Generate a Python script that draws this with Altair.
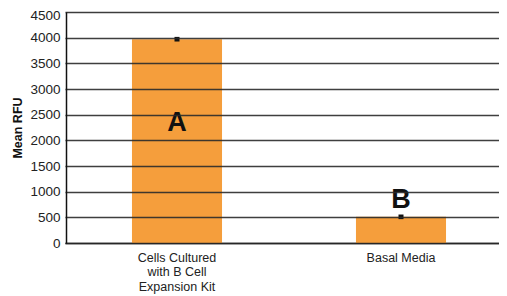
import altair as alt
import pandas as pd

categories = ["Cells Cultured|with B Cell|Expansion Kit", "Basal Media"]
mean_rfu = [3970, 510]
error = [45, 45]
letters = ["A", "B"]
letter_y = [2330, 840]
y_ticks = [0, 500, 1000, 1500, 2000, 2500, 3000, 3500, 4000, 4500]

df = pd.DataFrame({
    "cat": categories,
    "val": mean_rfu,
    "lo": [m - e for m, e in zip(mean_rfu, error)],
    "hi": [m + e for m, e in zip(mean_rfu, error)],
    "letter": letters,
    "ly": letter_y,
})

FONT = "Liberation Sans"

x_scale = alt.Scale(domain=categories, range=[-1, 447], paddingInner=0.598, paddingOuter=0.299)
y_scale = alt.Scale(domain=[0, 4500], nice=False)

x_axis = alt.Axis(labelAngle=0, labelExpr="split(datum.label, '|')",
                  labelFontSize=12.5, labelColor="#222", labelLineHeight=14.5,
                  labelPadding=8, ticks=False, domainColor="#111", domainWidth=1.5,
                  labelFont=FONT, labelBaseline="top")
y_axis = alt.Axis(values=y_ticks, format="d", labelOverlap=False,
                  labelFontSize=13.5, labelColor="#222", labelFont=FONT,
                  labelOffset={"condition": {"test": "datum.value == 4500", "value": 3}, "value": 0},
                  ticks=False, labelPadding=6,
                  titleFont=FONT, titleFontSize=12.5, titleFontWeight="bold",
                  titleColor="#111", titleAngle=270, titleX=-49, titleY=115.5,
                  titleAlign="center", titleBaseline="middle",
                  grid=True, gridColor="#2a2a2a", gridWidth=1.7, gridOpacity=0.9,
                  domainColor="#111", domainWidth=1.5, zindex=1)

def X():
    return alt.X("cat:N", sort=categories, title=None, scale=x_scale, axis=x_axis)

bars = alt.Chart(df).mark_bar(color="#F59E3C").encode(
    x=X(),
    y=alt.Y("val:Q", scale=y_scale, title="Mean RFU", axis=y_axis),
)

errs = alt.Chart(df).mark_rule(color="#111", strokeWidth=5).encode(
    x=X(),
    y=alt.Y("lo:Q", scale=y_scale, title="Mean RFU", axis=y_axis),
    y2="hi:Q",
)

text = alt.Chart(df).mark_text(fontSize=27, fontWeight="bold", font=FONT,
                               color="#111", baseline="middle").encode(
    x=X(),
    y=alt.Y("ly:Q", scale=y_scale, title="Mean RFU", axis=y_axis),
    text="letter:N",
)

chart = alt.layer(bars, errs, text).properties(
    width=433, height=231,
    autosize=alt.AutoSizeParams(type="none"),
    padding={"left": 58, "top": 4, "right": 0, "bottom": 53},
).configure_view(strokeWidth=0).configure(background="white")

chart.save("out.html", embed_options={"renderer": "svg", "actions": False})
